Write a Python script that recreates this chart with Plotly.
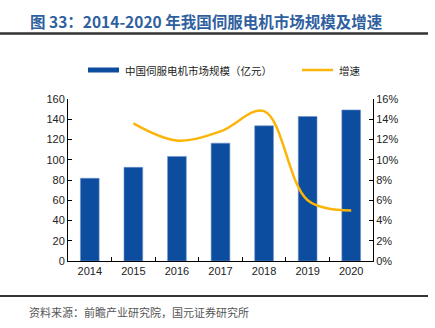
import plotly.graph_objects as go

years = ["2014", "2015", "2016", "2017", "2018", "2019", "2020"]
market_size = [81.7, 92.5, 103.3, 116.4, 133.5, 142.7, 149.2]
growth_years = ["2015", "2016", "2017", "2018", "2019", "2020"]
growth = [0.136, 0.119, 0.128, 0.148, 0.060, 0.050]
left_ticks = [0, 20, 40, 60, 80, 100, 120, 140, 160]
right_ticks = [0, 0.02, 0.04, 0.06, 0.08, 0.10, 0.12, 0.14, 0.16]
bar_name = "中国伺服电机市场规模（亿元）"
line_name = "增速"

W, H = 435, 328
ml, mr, mt, mb = 68, 62, 99, 67
PW, PH = W - ml - mr, H - mt - mb


def px(x):
    return (x - ml) / PW


def py(y):
    return (H - mb - y) / PH


BAR_COLOR = "#0C4DA0"
LINE_COLOR = "#FBB509"

fig = go.Figure()
fig.add_trace(go.Bar(
    x=years, y=market_size, name=bar_name,
    marker=dict(color=BAR_COLOR, line=dict(color="#6F93C8", width=0.6)),
    width=0.43, showlegend=False,
))
fig.add_trace(go.Scatter(
    x=growth_years, y=growth, name=line_name, yaxis="y2", mode="lines",
    line=dict(color=LINE_COLOR, width=2.5, shape="spline", smoothing=1.0),
    showlegend=False,
))

axis_font = dict(family="Liberation Sans, Arial, sans-serif", size=11, color="#222")
fig.update_layout(
    width=W, height=H,
    margin=dict(l=ml, r=mr, t=mt, b=mb),
    paper_bgcolor="white", plot_bgcolor="white",
    showlegend=False,
    xaxis=dict(type="category", showline=True, linecolor="#000", linewidth=1,
               ticks="inside", ticklen=4, tickcolor="#000", tickson="boundaries",
               tickfont=axis_font, showgrid=False),
    yaxis=dict(range=[0, 160], tickvals=left_ticks, showline=True, linecolor="#000", linewidth=1,
               ticks="inside", ticklen=4, tickcolor="#000", tickfont=axis_font, showgrid=False,
               zeroline=False),
    yaxis2=dict(range=[0, 0.16], tickvals=right_ticks, tickformat=".0%", overlaying="y", side="right",
                showline=True, linecolor="#000", linewidth=1, ticks="inside", ticklen=4,
                tickcolor="#000", tickfont=axis_font, showgrid=False, zeroline=False),
    font=dict(family="Noto Sans CJK SC"),
)

# custom legend
fig.add_shape(type="rect", xref="paper", yref="paper",
              x0=px(88), x1=px(119), y0=py(72.5), y1=py(67.5),
              fillcolor=BAR_COLOR, line=dict(width=0))
fig.add_annotation(text=bar_name, xref="paper", yref="paper", x=px(123), y=py(70),
                   xanchor="left", yanchor="middle", showarrow=False,
                   font=dict(family="Noto Sans CJK SC", size=10.5, color="#222"))
fig.add_shape(type="line", xref="paper", yref="paper",
              x0=px(302), x1=px(333), y0=py(70), y1=py(70),
              line=dict(color=LINE_COLOR, width=2.5))
fig.add_annotation(text=line_name, xref="paper", yref="paper", x=px(337), y=py(70),
                   xanchor="left", yanchor="middle", showarrow=False,
                   font=dict(family="Noto Sans CJK SC", size=10.5, color="#222"))

fig.add_annotation(text="<b>图 33：2014-2020 年我国伺服电机市场规模及增速</b>",
                   xref="paper", yref="paper", x=px(28), y=py(21),
                   xanchor="left", yanchor="middle",
                   showarrow=False, font=dict(family="Noto Sans CJK SC", size=15.5, color="#2F5F9E"))
fig.add_annotation(text="资料来源：前瞻产业研究院，国元证券研究所",
                   xref="paper", yref="paper", x=px(27), y=py(312),
                   xanchor="left", yanchor="middle",
                   showarrow=False, font=dict(family="Noto Sans CJK SC", size=11, color="#555"))
fig.add_shape(type="line", xref="paper", yref="paper",
              x0=px(0), x1=px(428), y0=py(33.5), y1=py(33.5),
              line=dict(color="#333", width=2.5))
fig.add_shape(type="line", xref="paper", yref="paper",
              x0=px(0), x1=px(428), y0=py(296), y1=py(296),
              line=dict(color="#333", width=2))

fig.write_html("out.html")
